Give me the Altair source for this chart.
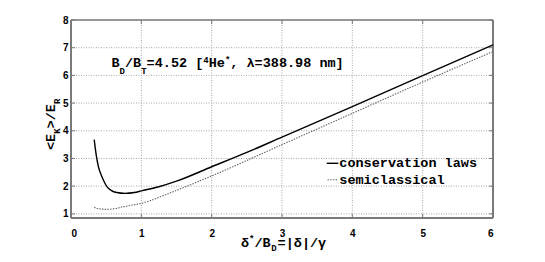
import altair as alt
import pandas as pd

# ---- data ----
cons_x = [0.33, 0.36, 0.39, 0.43, 0.46, 0.51, 0.57, 0.65, 0.77, 0.90, 1.00, 1.25, 1.50, 2.00, 2.50, 3.00, 4.00, 5.00, 6.00]
cons_y = [3.68, 3.10, 2.70, 2.40, 2.22, 1.98, 1.85, 1.77, 1.74, 1.77, 1.83, 1.98, 2.18, 2.70, 3.22, 3.77, 4.87, 5.99, 7.10]
semi_x = [0.33, 0.38, 0.45, 0.50, 0.60, 0.75, 1.00, 1.50, 2.00, 3.00, 4.00, 5.00, 6.00]
semi_y = [1.24, 1.19, 1.17, 1.16, 1.18, 1.26, 1.38, 1.85, 2.37, 3.50, 4.63, 5.76, 6.86]
x_ticks = [0, 1, 2, 3, 4, 5, 6]
y_ticks = [1, 2, 3, 4, 5, 6, 7, 8]
series_names = ["conservation laws", "semiclassical"]

W, H = 422, 198
MONO = "Liberation Mono"
FRAME = "#7a7a7a"
GRID = "#a8a8a8"

xs = alt.Scale(domain=[0, 6], nice=False, zero=False)
ys = alt.Scale(domain=[0.85, 8], nice=False, zero=False)

x_axis = alt.Axis(values=x_ticks, title=None, domain=False, ticks=False,
                  grid=False, labelPadding=10, format="d", labelOverlap=False)
y_axis = alt.Axis(values=y_ticks, title=None, domain=False, ticks=False,
                  grid=False, labelPadding=3, format="d", labelOverlap=False)

cons_df = pd.DataFrame({"x": cons_x, "y": cons_y})
semi_df = pd.DataFrame({"x": semi_x, "y": semi_y})
xt = pd.DataFrame({"x": x_ticks})
yt = pd.DataFrame({"y": y_ticks})
frame_df = pd.DataFrame({"f": [0]})
text_df = pd.DataFrame({"t": [0]})

# dotted grid, drawn from the tick lists
grid_v = alt.Chart(xt).mark_rule(color=GRID, strokeDash=[1, 1.5], strokeWidth=1).encode(
    x=alt.X("x:Q", scale=xs, axis=x_axis), y=alt.value(0), y2=alt.value(H))
grid_h = alt.Chart(yt).mark_rule(color=GRID, strokeDash=[1, 1.5], strokeWidth=1).encode(
    y=alt.Y("y:Q", scale=ys, axis=y_axis), x=alt.value(0), x2=alt.value(W))

cons = alt.Chart(cons_df).mark_line(color="black", strokeWidth=1.4, interpolate="monotone").encode(
    x=alt.X("x:Q", scale=xs, axis=x_axis), y=alt.Y("y:Q", scale=ys, axis=y_axis))
semi = alt.Chart(semi_df).mark_line(color="#666666", strokeWidth=1.1, strokeDash=[1.5, 1.2],
                                    interpolate="monotone").encode(
    x=alt.X("x:Q", scale=xs, axis=x_axis), y=alt.Y("y:Q", scale=ys, axis=y_axis))

# inward tick marks
tick_b = alt.Chart(xt).mark_rule(color=FRAME).encode(
    x=alt.X("x:Q", scale=xs, axis=x_axis), y=alt.value(H), y2=alt.value(H - 4))
tick_t = alt.Chart(xt).mark_rule(color=FRAME).encode(
    x=alt.X("x:Q", scale=xs, axis=x_axis), y=alt.value(0), y2=alt.value(4))
tick_l = alt.Chart(yt).mark_rule(color=FRAME).encode(
    y=alt.Y("y:Q", scale=ys, axis=y_axis), x=alt.value(0), x2=alt.value(4))
tick_r = alt.Chart(yt).mark_rule(color=FRAME).encode(
    y=alt.Y("y:Q", scale=ys, axis=y_axis), x=alt.value(W), x2=alt.value(W - 4))

# frame
frame = [
    alt.Chart(frame_df).mark_rule(color=FRAME, strokeWidth=2).encode(x=alt.value(0), x2=alt.value(W), y=alt.value(H)),
    alt.Chart(frame_df).mark_rule(color=FRAME, strokeWidth=2).encode(x=alt.value(0), y=alt.value(0), y2=alt.value(H)),
    alt.Chart(frame_df).mark_rule(color=FRAME, strokeWidth=1.5).encode(x=alt.value(0), x2=alt.value(W), y=alt.value(0)),
    alt.Chart(frame_df).mark_rule(color=FRAME, strokeWidth=2).encode(x=alt.value(W), y=alt.value(0), y2=alt.value(H)),
]


def txt(s, x, y, size=13.5, angle=0, baseline="alphabetic"):
    return alt.Chart(text_df).mark_text(text=s, font=MONO, fontWeight="bold", fontSize=size,
                                        align="left", baseline=baseline, angle=angle,
                                        color="black").encode(x=alt.value(x), y=alt.value(y))


M, S = 13.5, 9.0
cm, cs = 8.1, 5.4

pieces = []

# annotation
ax0, ab = 40.5, 47.3
cx = ax0
for s, kind in [("B", "m"), ("D", "sub"), ("/B", "m"), ("T", "sub"), ("=4.52 [", "m"),
                ("4", "sup"), ("He", "m"), ("*", "sup"), (", λ=388.98 nm]", "m")]:
    if kind == "m":
        pieces.append(txt(s, cx, ab, M))
        cx += cm * len(s)
    elif kind == "sub":
        pieces.append(txt(s, cx, ab + 6.5, S))
        cx += cs * len(s)
    else:
        pieces.append(txt(s, cx, ab - 4, S))
        cx += cs * len(s)

# x title
tb = 226.5
cx = 170
for s, kind in [("δ", "m"), ("*", "sup"), ("/B", "m"), ("D", "sub"), ("=|δ|/γ", "m")]:
    if kind == "m":
        pieces.append(txt(s, cx, tb, M))
        cx += cm * len(s)
    elif kind == "sub":
        pieces.append(txt(s, cx + 0.5, tb + 4, S))
        cx += cs * len(s) + 1.5
    else:
        pieces.append(txt(s, cx, tb - 4.5, S))
        cx += cs * len(s)

# y title (rotated)
yb = -16
cy = 130
for s, kind in [("<E", "m"), ("K", "sub"), (">/E", "m"), ("R", "sub")]:
    if kind == "m":
        pieces.append(txt(s, yb, cy, M, angle=270))
        cy -= cm * len(s)
    else:
        pieces.append(txt(s, yb + 4.5, cy, S, angle=270))
        cy -= cs * len(s)

# legend
leg = [
    alt.Chart(text_df).mark_rule(color="black", strokeWidth=1.4).encode(
        x=alt.value(255.7), x2=alt.value(267.3), y=alt.value(143.3)),
    alt.Chart(text_df).mark_rule(color="#666666", strokeWidth=1.1, strokeDash=[1.5, 1.2]).encode(
        x=alt.value(256.5), x2=alt.value(267.3), y=alt.value(159.8)),
    txt(series_names[0], 268.3, 143.3, M, baseline="middle"),
    txt(series_names[1], 268.3, 159.8, M, baseline="middle"),
]

chart = alt.layer(grid_v, grid_h, *frame, cons, semi, tick_b, tick_t, tick_l, tick_r, *pieces, *leg).properties(
    width=W, height=H,
    autosize=alt.AutoSizeParams(type="none"),
    padding={"left": 63, "top": 12, "right": 44, "bottom": 36},
).configure_view(
    stroke=None
).configure_axis(
    labelFont="Liberation Sans", labelFontWeight="bold", labelFontSize=10, labelColor="black",
    labelOverlap=False
)

chart.save("out.html", embed_options={"renderer": "svg", "actions": False})
